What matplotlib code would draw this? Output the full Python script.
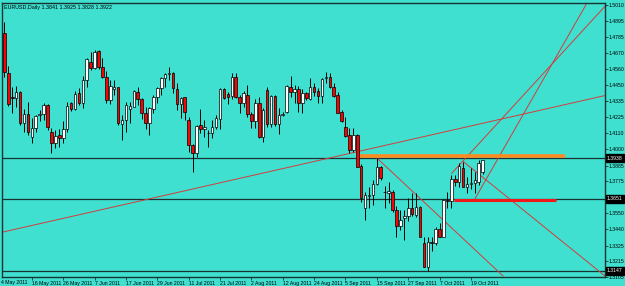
import matplotlib
matplotlib.use("Agg")
import matplotlib.pyplot as plt
import matplotlib.transforms as mtransforms

plt.rcParams['font.family'] = ['Liberation Sans', 'DejaVu Sans']

# daily EURUSD candles, 4 May 2011 .. 24 Oct 2011 (open, high, low, close)
opens = [1.4812, 1.4811, 1.4531, 1.4362, 1.4356, 1.4402, 1.4181, 1.4244, 1.4083, 1.4150,
         1.4240, 1.4244, 1.4309, 1.4122, 1.4045, 1.4099, 1.4080, 1.4139, 1.4321, 1.4279,
         1.4391, 1.4321, 1.4484, 1.4608, 1.4570, 1.4687, 1.4577, 1.4507, 1.4344, 1.4418,
         1.4437, 1.4174, 1.4204, 1.4279, 1.4297, 1.4402, 1.4349, 1.4255, 1.4185, 1.4279,
         1.4363, 1.4430, 1.4496, 1.4528, 1.4531, 1.4419, 1.4316, 1.4363, 1.4204, 1.4029,
         1.3971, 1.4169, 1.4139, 1.4115, 1.4111, 1.4153, 1.4209, 1.4419, 1.4386, 1.4372,
         1.4503, 1.4363, 1.4325, 1.4379, 1.4246, 1.4199, 1.4321, 1.4083, 1.4414, 1.4176,
         1.4372, 1.4176, 1.4239, 1.4262, 1.4437, 1.4402, 1.4419, 1.4325, 1.4391, 1.4351,
         1.4433, 1.4407, 1.4372, 1.4500, 1.4507, 1.4433, 1.4379, 1.4258, 1.4157, 1.4099,
         1.3994, 1.4099, 1.3882, 1.3586, 1.3672, 1.3679, 1.3756, 1.3877, 1.3700, 1.3695,
         1.3702, 1.3574, 1.3462, 1.3520, 1.3532, 1.3586, 1.3539, 1.3597, 1.3345, 1.3177,
         1.3352, 1.3345, 1.3439, 1.3387, 1.3644, 1.3639, 1.3791, 1.3772, 1.3866, 1.3733,
         1.3756, 1.3760, 1.3772, 1.3841]
highs = [1.4880, 1.4892, 1.4584, 1.4437, 1.4444, 1.4407, 1.4279, 1.4332, 1.4216, 1.4239,
         1.4274, 1.4321, 1.4314, 1.4146, 1.4134, 1.4141, 1.4197, 1.4328, 1.4328, 1.4409,
         1.4430, 1.4512, 1.4640, 1.4678, 1.4694, 1.4692, 1.4640, 1.4547, 1.4484, 1.4484,
         1.4437, 1.4239, 1.4332, 1.4332, 1.4414, 1.4437, 1.4356, 1.4297, 1.4297, 1.4379,
         1.4437, 1.4507, 1.4535, 1.4573, 1.4542, 1.4461, 1.4367, 1.4367, 1.4227, 1.4036,
         1.4169, 1.4279, 1.4204, 1.4134, 1.4204, 1.4239, 1.4426, 1.4426, 1.4402, 1.4531,
         1.4531, 1.4379, 1.4409, 1.4449, 1.4262, 1.4349, 1.4367, 1.4286, 1.4437, 1.4379,
         1.4379, 1.4286, 1.4260, 1.4449, 1.4512, 1.4449, 1.4442, 1.4419, 1.4402, 1.4496,
         1.4465, 1.4426, 1.4496, 1.4542, 1.4531, 1.4465, 1.4402, 1.4274, 1.4223, 1.4146,
         1.4146, 1.4106, 1.3896, 1.3702, 1.3737, 1.3784, 1.3936, 1.3882, 1.3740, 1.3770,
         1.3714, 1.3602, 1.3574, 1.3574, 1.3656, 1.3691, 1.3691, 1.3602, 1.3383, 1.3383,
         1.3383, 1.3457, 1.3480, 1.3649, 1.3700, 1.3819, 1.3819, 1.3905, 1.3912, 1.3807,
         1.3868, 1.3840, 1.3924, 1.3925]
lows = [1.4780, 1.4507, 1.4304, 1.4251, 1.4297, 1.4169, 1.4122, 1.4099, 1.4041, 1.4122,
        1.4197, 1.4204, 1.4134, 1.3971, 1.4010, 1.4017, 1.4041, 1.4122, 1.4265, 1.4274,
        1.4309, 1.4286, 1.4437, 1.4554, 1.4561, 1.4561, 1.4500, 1.4321, 1.4314, 1.4379,
        1.4169, 1.4064, 1.4122, 1.4185, 1.4293, 1.4309, 1.4209, 1.4139, 1.4099, 1.4251,
        1.4321, 1.4379, 1.4437, 1.4484, 1.4391, 1.4274, 1.4216, 1.4204, 1.3982, 1.3842,
        1.3947, 1.4115, 1.4087, 1.4013, 1.4076, 1.4139, 1.4139, 1.4353, 1.4316, 1.4349,
        1.4356, 1.4251, 1.4297, 1.4227, 1.4146, 1.4146, 1.4076, 1.4052, 1.4157, 1.4153,
        1.4160, 1.4106, 1.4230, 1.4255, 1.4367, 1.4321, 1.4262, 1.4251, 1.4344, 1.4344,
        1.4372, 1.4321, 1.4321, 1.4461, 1.4426, 1.4367, 1.4251, 1.4192, 1.4087, 1.3971,
        1.3978, 1.3873, 1.3632, 1.3504, 1.3586, 1.3609, 1.3749, 1.3784, 1.3588, 1.3620,
        1.3562, 1.3383, 1.3434, 1.3364, 1.3499, 1.3532, 1.3523, 1.3383, 1.3173, 1.3147,
        1.3290, 1.3330, 1.3383, 1.3383, 1.3585, 1.3586, 1.3740, 1.3737, 1.3733, 1.3691,
        1.3720, 1.3693, 1.3749, 1.3828]
closes = [1.4816, 1.4538, 1.4314, 1.4356, 1.4402, 1.4181, 1.4244, 1.4118, 1.4150, 1.4232,
          1.4245, 1.4309, 1.4157, 1.4045, 1.4094, 1.4080, 1.4139, 1.4302, 1.4279, 1.4386,
          1.4321, 1.4484, 1.4629, 1.4566, 1.4682, 1.4577, 1.4507, 1.4344, 1.4444, 1.4437,
          1.4181, 1.4204, 1.4309, 1.4302, 1.4409, 1.4349, 1.4251, 1.4185, 1.4286, 1.4367,
          1.4430, 1.4500, 1.4524, 1.4531, 1.4426, 1.4316, 1.4356, 1.4262, 1.4029, 1.3975,
          1.4162, 1.4139, 1.4153, 1.4112, 1.4153, 1.4216, 1.4419, 1.4356, 1.4367, 1.4503,
          1.4363, 1.4325, 1.4391, 1.4246, 1.4199, 1.4325, 1.4083, 1.4274, 1.4176, 1.4372,
          1.4176, 1.4239, 1.4244, 1.4442, 1.4402, 1.4419, 1.4325, 1.4391, 1.4356, 1.4433,
          1.4402, 1.4372, 1.4491, 1.4503, 1.4437, 1.4372, 1.4255, 1.4199, 1.4092, 1.3994,
          1.4099, 1.3877, 1.3656, 1.3679, 1.3679, 1.3756, 1.3877, 1.3796, 1.3697, 1.3710,
          1.3574, 1.3462, 1.3504, 1.3532, 1.3586, 1.3546, 1.3597, 1.3387, 1.3177, 1.3352,
          1.3345, 1.3439, 1.3383, 1.3644, 1.3640, 1.3789, 1.3772, 1.3882, 1.3737, 1.3756,
          1.3763, 1.3784, 1.3901, 1.3922]

date_labels = ["4 May 2011", "16 May 2011", "26 May 2011", "7 Jun 2011", "17 Jun 2011",
               "29 Jun 2011", "11 Jul 2011", "21 Jul 2011", "2 Aug 2011", "12 Aug 2011",
               "24 Aug 2011", "5 Sep 2011", "15 Sep 2011", "27 Sep 2011", "7 Oct 2011",
               "19 Oct 2011"]
price_ticks = [1.5010, 1.4895, 1.4785, 1.4670, 1.4560, 1.4450, 1.4335, 1.4225, 1.4110,
               1.4000, 1.3885, 1.3775, 1.3550, 1.3440, 1.3325, 1.3215, 1.3105]

# chart objects: horizontal levels, thick segments, trend lines (bar index, price)
hlines = [1.3938, 1.3651, 1.3147]
orange_seg = [(91.7, 144.0), 1.3952]
red_seg = [(115.7, 141.6), 1.3644]
trend_lines = [
    [(0.0, 1.3416), (154.0, 1.4374)],
    [(96.0, 1.3938), (128.2, 1.3112)],
    [(118.1, 1.3912), (154.2, 1.3112)],
    [(115.1, 1.3831), (154.2, 1.5000)],
    [(121.0, 1.3651), (149.6, 1.5023)],
]

bg = "#40E0D0"
dark = "#183332"
fs = 3.7

fig = plt.figure(figsize=(6.25, 2.86), dpi=100, facecolor=bg)
ax = fig.add_axes([2 / 625, 9 / 286, 603 / 625, 274 / 286], facecolor=bg)

n = len(opens)
for i in range(n):
    up = closes[i] >= opens[i]
    lo_b = min(opens[i], closes[i])
    h = max(abs(closes[i] - opens[i]), 0.00012)
    ax.vlines(i, lows[i], highs[i], color="black", lw=0.7, zorder=3)
    ax.bar(i, h, bottom=lo_b, width=0.66, color="white" if up else "#ff0000",
           edgecolor="black", linewidth=0.5, zorder=4)

for lv in hlines:
    ax.axhline(lv, color=dark, lw=0.9, zorder=2)

ax.plot(orange_seg[0], [orange_seg[1]] * 2, color="#ff8a1e", lw=2.6, zorder=5,
        solid_capstyle="butt")
ax.plot(red_seg[0], [red_seg[1]] * 2, color="#f01818", lw=2.2, zorder=5,
        solid_capstyle="butt")
for (x0, y0), (x1, y1) in trend_lines:
    ax.plot([x0, x1], [y0, y1], color="#d23c3c", lw=0.7, zorder=2)

ax.set_xlim(0.38, 154.2)
ax.set_ylim(1.3105, 1.5023)

for s in ax.spines.values():
    s.set_color(dark)
    s.set_linewidth(1)

ax.yaxis.tick_right()
ax.set_yticks(price_ticks)
ax.set_yticklabels(["%.4f" % p for p in price_ticks])
ax.tick_params(axis="y", length=2, width=0.6, color=dark, pad=0.8, labelsize=fs)

ax.set_xticks(list(range(8, 121, 8)))
ax.set_xticklabels(date_labels[1:])
ax.tick_params(axis="x", length=2.5, width=0.6, color=dark, pad=0.3, labelsize=fs)
for lbl in ax.get_xticklabels():
    lbl.set_ha("left")
# first date sits left of the visible area
ax.text(-0.002, -0.011, date_labels[0], transform=ax.transAxes, ha="left", va="top",
        fontsize=fs, clip_on=False)

# price boxes for the horizontal levels
trans = mtransforms.blended_transform_factory(ax.transAxes, ax.transData)
for lv in hlines:
    ax.text(1.003, lv, "%.4f" % lv, transform=trans, ha="left", va="center",
            fontsize=fs, color="white", clip_on=False, zorder=10,
            bbox=dict(boxstyle="square,pad=0.2", fc="black", ec="black"))

ax.text(0.003, 0.993, "EURUSD,Daily %.4f %.4f %.4f %.4f" % (opens[-1], highs[-1], lows[-1], closes[-1]),
        transform=ax.transAxes, ha="left", va="top", fontsize=3.9)

fig.savefig("out.png", dpi=100, facecolor=bg)
